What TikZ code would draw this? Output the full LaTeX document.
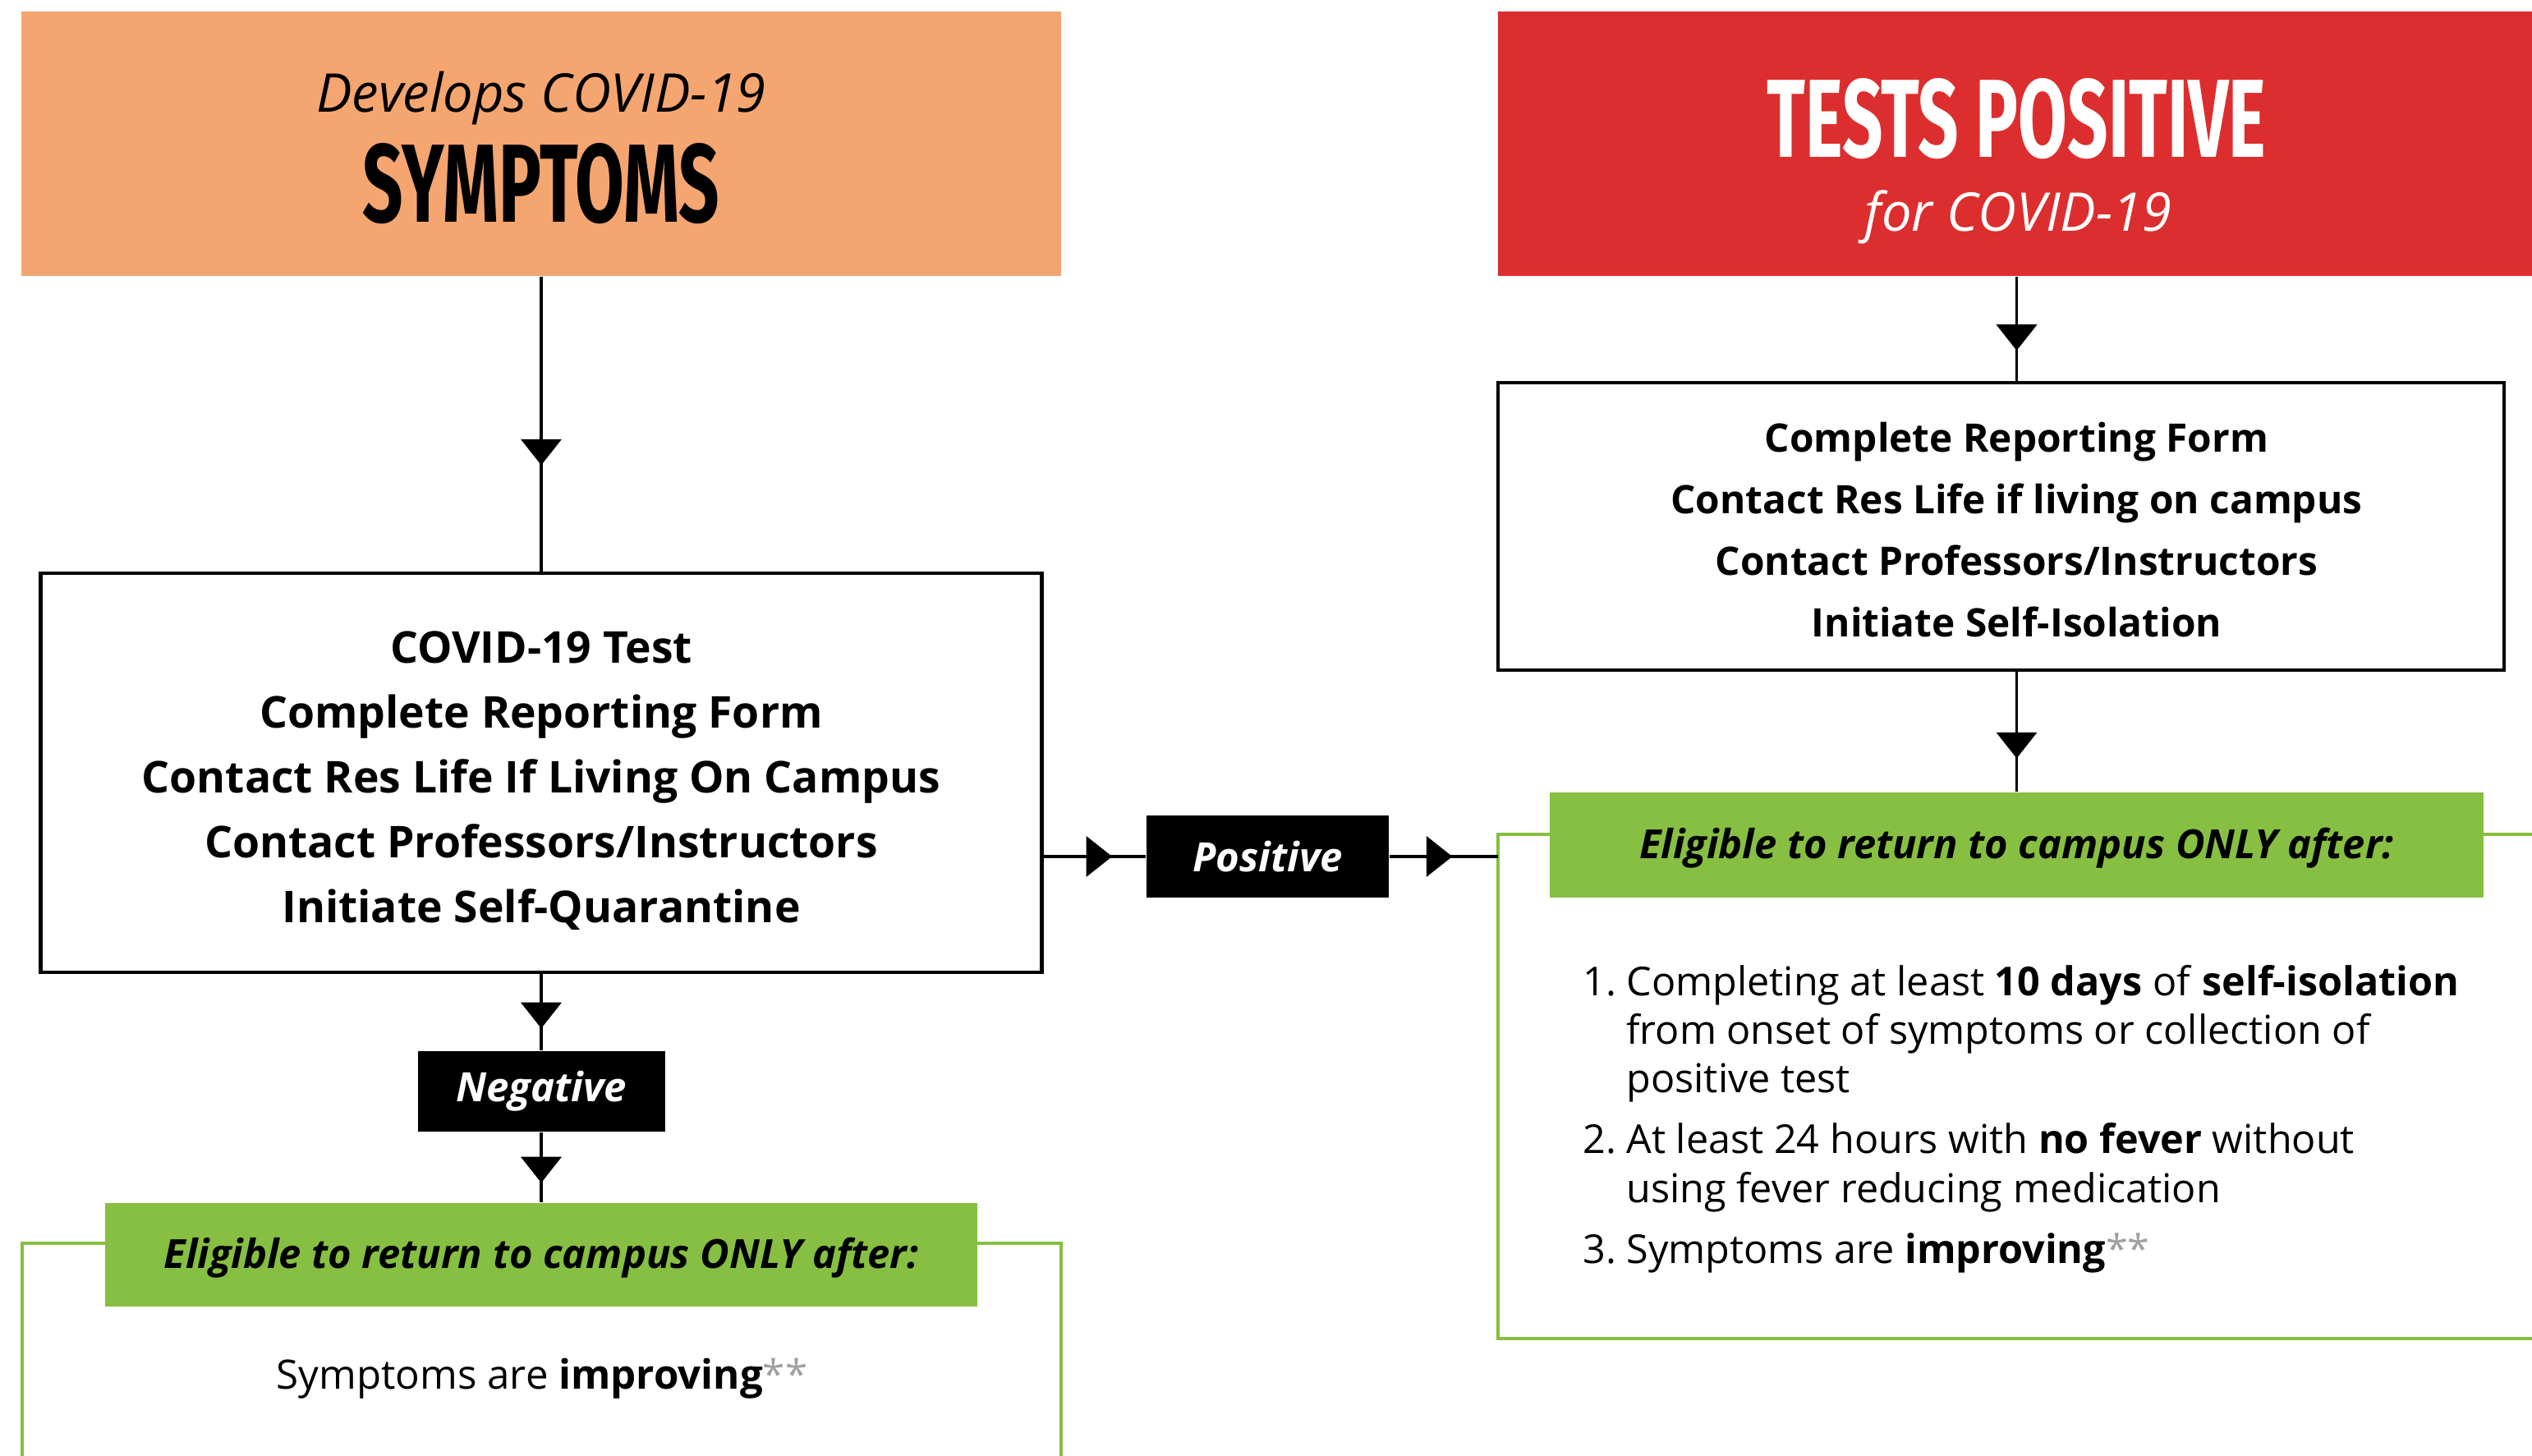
\documentclass[tikz,border=0pt]{standalone}
\usepackage{fontspec}
\setmainfont{Open Sans}
\newfontfamily\headfont[FakeStretch=0.64]{Fira Sans}
\usetikzlibrary{arrows.meta,decorations.markings}
\definecolor{symorange}{RGB}{244,165,112}
\definecolor{posred}{RGB}{220,46,46}
\definecolor{okgreen}{RGB}{135,191,66}
\definecolor{stargray}{RGB}{160,160,160}

\begin{document}
\begin{tikzpicture}[
    flow/.style={line width=0.9pt, postaction={decorate},
        decoration={markings, mark=at position #1 with {\arrow{Triangle[width=14pt,length=9pt]}}}},
    stepbox/.style={draw, line width=1.3pt, inner sep=0pt},
    result/.style={fill=black, text=white, inner sep=0pt, font=\fontsize{14}{17}\selectfont\bfseries\itshape},
    header/.style={fill=okgreen, inner sep=0pt, text depth=0.12em, font=\fontsize{13.9}{17}\selectfont\bfseries\itshape},
    frame/.style={draw=okgreen, line width=1.4pt}
]
    \useasboundingbox (0,0) rectangle (30.83,17.73);

    % Green frames behind the headers
    \draw[frame] (0.27,-0.2) |- (12.92,2.59) -- (12.92,-0.2);
    \draw[frame] (31.2,7.57) -| (18.24,1.43) -- (31.2,1.43);
    \coordinate (rframe) at (18.24,7.30);

    % Title blocks
    \node[fill=symorange, minimum width=12.65cm, minimum height=3.22cm] (sym) at (6.59,15.98) {};
    \node[font=\fontsize{18.5}{22}\selectfont\itshape] (symtop) at (6.59,16.53) {Develops COVID-19};
    \node[font=\headfont\bfseries\fontsize{38.5}{40}\selectfont] (symbig) at (6.59,15.49) {SYMPTOMS};

    \node[fill=posred, minimum width=12.63cm, minimum height=3.22cm] (red) at (24.555,15.98) {};
    \node[text=white, font=\headfont\bfseries\fontsize{38.5}{40}\selectfont] (redbig) at (24.555,16.285) {TESTS POSITIVE};
    \node[text=white, font=\fontsize{18.5}{22}\selectfont\itshape] (redtop) at (24.575,15.09) {for COVID-19};

    % Steps
    \node[stepbox, minimum width=12.19cm, minimum height=4.86cm] (lbox) at (6.59,8.32) {};
    \node[align=center, font=\fontsize{15.2}{22.5}\selectfont\bfseries] (ltext) at (6.59,8.22)
        {COVID-19 Test\\Complete Reporting Form\\Contact Res Life If Living On Campus\\Contact Professors/Instructors\\Initiate Self-Quarantine};
    \node[stepbox, minimum width=12.25cm, minimum height=3.50cm] (rbox) at (24.365,11.32) {};
    \node[align=center, font=\fontsize{13.6}{21.3}\selectfont\bfseries] (rtext) at (24.555,11.28)
        {Complete Reporting Form\\Contact Res Life if living on campus\\Contact Professors/Instructors\\Initiate Self-Isolation};

    % Test results
    \node[result, minimum width=3.01cm, minimum height=0.98cm] (neg) at (6.59,4.44) {Negative};
    \node[result, minimum width=2.95cm, minimum height=1.00cm] (pos) at (15.435,7.30) {Positive};

    % Return conditions
    \node[header, minimum width=10.62cm, minimum height=1.26cm] (lhead) at (6.59,2.45) {Eligible to return to campus ONLY after:};
    \node[header, minimum width=11.37cm, minimum height=1.28cm] (rhead) at (24.555,7.44) {Eligible to return to campus ONLY after:};

    \node[font=\fontsize{14}{17}\selectfont] (lcond) at (6.60,0.94)
        {Symptoms are \textbf{improving}{\color{stargray}**}};
    \node[anchor=north west, inner sep=0pt, font=\fontsize{13.8}{16.8}\selectfont] (rcond) at (19.27,6.03)
        {\begin{tabular}{@{}p{15pt}@{}l@{}}
        1. & Completing at least \textbf{10 days} of \textbf{self-isolation}\\
           & from onset of symptoms or collection of\\
           & positive test\\[4.5pt]
        2. & At least 24 hours with \textbf{no fever} without\\
           & using fever reducing medication\\[4.5pt]
        3. & Symptoms are \textbf{improving}{\color{stargray}**}
        \end{tabular}};

    % Connectors
    \draw[flow=0.64] (sym.south) -- (lbox.north);
    \draw[flow=0.71] (lbox.south) -- (neg.north);
    \draw[flow=0.72] (neg.south) -- (lhead.north);
    \draw[flow=0.71] (red.south) -- (red.south |- rbox.north);
    \draw[flow=0.72] (rbox.south -| red.south) -- (rhead.north);
    \draw[flow=0.67] (lbox.east |- pos.west) -- (pos.west);
    \draw[flow=0.58] (pos.east) -- (rframe);
\end{tikzpicture}
\end{document}
